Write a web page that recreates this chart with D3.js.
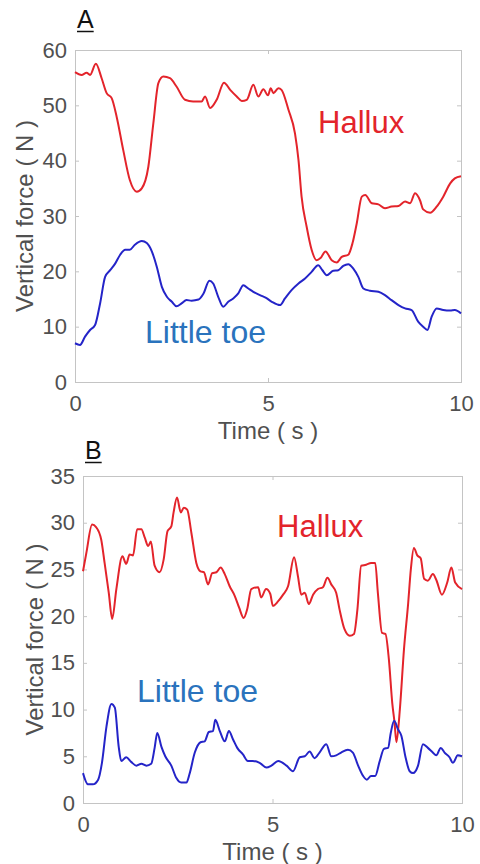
<!DOCTYPE html>
<html>
<head>
<meta charset="utf-8">
<script src="https://cdn.jsdelivr.net/npm/d3@7"></script>
<style>
	body { margin: 0; background: #fff; }
	svg { display: block; font-family: "Liberation Sans", Arial, sans-serif; }
	.axis .domain { display: none; }
	.axis line { stroke: #c4c4c4; }
	.axis text { fill: #505050; font-size: 22px; }
	.box { fill: none; stroke: #c4c4c4; stroke-width: 1; }
	.label { fill: #505050; font-size: 24px; }
	.hallux-line { fill: none; stroke: #e3242b; stroke-width: 2; }
	.toe-line { fill: none; stroke: #2424c8; stroke-width: 2; }
	.hallux-text { fill: #e3242b; font-size: 31px; }
	.toe-text { fill: #2a73bd; font-size: 32px; }
	.letter { fill: #111; font-size: 25px; }
</style>
</head>
<body>
<div id="graphic"></div>
<script>
// ===========================
// vertical force under hallux and little toe, two trials (A, B)
// ===========================

var timeTicks = [0, 5, 10];
var forceTicksA = [0, 10, 20, 30, 40, 50, 60];
var forceTicksB = [0, 5, 10, 15, 20, 25, 30, 35];

// [time (s), force (N)]
var halluxA = [[0,56.0],[0.17,55.5],[0.30,55.9],[0.39,55.5],[0.54,57.5],[0.69,54.9],[0.82,52.2],[0.95,51.3],[1.08,47.9],[1.25,41.9],[1.42,36.5],[1.60,34.4],[1.73,35.0],[1.90,38.9],[2.03,46.8],[2.16,54.0],[2.29,55.2],[2.46,54.9],[2.63,53.4],[2.85,51.0],[3.06,50.7],[3.28,50.7],[3.37,51.6],[3.50,49.5],[3.67,51.0],[3.86,54.1],[4.02,52.8],[4.19,51.6],[4.32,50.8],[4.45,51.0],[4.62,53.7],[4.75,51.6],[4.88,52.9],[5.00,51.8],[5.07,53.1],[5.14,52.2],[5.27,53.1],[5.35,52.8],[5.53,49.2],[5.70,44.9],[5.79,40.1],[5.87,33.5],[6.00,28.1],[6.13,23.9],[6.26,22.0],[6.36,22.4],[6.49,23.6],[6.65,22.0],[6.78,21.6],[6.91,22.6],[7.08,23.0],[7.19,25.1],[7.30,28.7],[7.43,33.5],[7.52,33.8],[7.69,32.3],[7.86,32.1],[8.03,31.4],[8.20,31.7],[8.38,31.8],[8.55,32.6],[8.68,32.3],[8.81,34.1],[8.94,32.8],[9.02,31.2],[9.20,30.6],[9.37,31.7],[9.54,33.5],[9.72,35.9],[9.84,36.8],[10,37.2]];

var littleToeA = [[0,7.0],[0.13,6.7],[0.26,8.2],[0.39,9.4],[0.52,10.3],[0.65,14.2],[0.78,19.0],[0.91,20.2],[1.04,21.4],[1.17,23.0],[1.30,23.9],[1.42,23.9],[1.55,24.8],[1.73,25.5],[1.86,25.1],[1.99,23.6],[2.12,20.8],[2.25,17.2],[2.38,15.4],[2.51,14.5],[2.63,13.7],[2.76,14.2],[2.89,14.8],[3.02,14.7],[3.20,14.9],[3.33,16.0],[3.48,18.3],[3.58,17.8],[3.71,15.4],[3.84,13.6],[3.97,14.5],[4.10,15.1],[4.23,16.0],[4.36,17.5],[4.49,16.9],[4.62,16.3],[4.79,15.7],[4.95,15.2],[5.10,14.5],[5.31,13.9],[5.44,15.1],[5.61,16.6],[5.79,17.8],[5.96,18.7],[6.13,19.9],[6.30,21.1],[6.41,20.2],[6.52,19.3],[6.69,20.1],[6.82,20.2],[6.95,21.0],[7.08,21.3],[7.21,20.5],[7.34,19.0],[7.47,16.9],[7.64,16.5],[7.86,16.3],[8.03,15.7],[8.20,14.8],[8.38,13.9],[8.55,13.3],[8.72,13.0],[8.89,10.9],[9.02,10.0],[9.13,9.4],[9.24,11.8],[9.37,13.3],[9.54,13.0],[9.72,12.9],[9.84,13.0],[10,12.4]];

var halluxB = [[0,24.8],[0.09,26.8],[0.24,29.8],[0.35,29.5],[0.48,28.2],[0.57,25.7],[0.68,22.5],[0.77,19.7],[0.88,22.9],[1.04,26.4],[1.14,25.6],[1.23,26.6],[1.32,26.5],[1.43,29.3],[1.54,29.3],[1.63,28.4],[1.72,27.5],[1.79,28.0],[1.89,25.4],[2.02,24.7],[2.13,26.1],[2.23,29.1],[2.33,29.6],[2.39,31.1],[2.48,32.7],[2.58,31.1],[2.66,31.6],[2.75,31.4],[2.86,28.9],[2.99,25.7],[3.10,24.8],[3.19,24.7],[3.30,23.4],[3.41,24.6],[3.52,24.7],[3.63,25.2],[3.74,24.5],[3.87,23.2],[4.00,22.2],[4.12,20.9],[4.24,19.8],[4.33,20.7],[4.44,22.9],[4.62,23.1],[4.70,22.0],[4.83,22.9],[4.94,22.4],[5.01,21.1],[5.15,21.6],[5.28,22.3],[5.41,23.2],[5.57,26.3],[5.67,24.3],[5.76,22.3],[5.85,22.5],[5.96,21.3],[6.07,22.3],[6.20,22.9],[6.33,23.1],[6.45,24.1],[6.55,23.4],[6.68,22.5],[6.77,20.7],[6.90,18.6],[7.04,17.9],[7.15,18.1],[7.24,20.7],[7.34,25.4],[7.47,25.5],[7.60,25.7],[7.71,25.7],[7.78,22.5],[7.89,18.2],[7.98,18.1],[8.07,15.4],[8.16,10.7],[8.22,8.6],[8.27,6.5],[8.36,10.0],[8.47,16.5],[8.58,21.4],[8.65,25.0],[8.73,27.3],[8.82,26.5],[8.91,26.2],[9.00,24.0],[9.10,23.8],[9.23,24.5],[9.32,23.9],[9.47,22.3],[9.61,23.6],[9.72,25.2],[9.82,23.6],[10,22.9]];

var littleToeB = [[0,3.2],[0.13,2.0],[0.26,2.0],[0.40,2.5],[0.50,4.3],[0.62,8.2],[0.75,10.6],[0.84,10.2],[0.94,6.1],[1.01,4.5],[1.14,4.9],[1.27,4.4],[1.41,4.0],[1.54,4.2],[1.67,4.0],[1.80,4.2],[1.89,5.9],[1.96,7.5],[2.07,6.0],[2.17,5.0],[2.33,4.0],[2.46,2.7],[2.59,2.2],[2.73,2.2],[2.81,3.1],[2.95,5.4],[3.10,6.5],[3.21,6.6],[3.32,7.6],[3.43,7.7],[3.49,8.9],[3.61,7.7],[3.74,6.6],[3.85,7.7],[3.96,6.8],[4.07,5.9],[4.22,5.2],[4.35,4.5],[4.48,4.5],[4.66,4.3],[4.84,3.8],[4.97,4.0],[5.15,4.5],[5.37,4.0],[5.54,3.4],[5.72,4.9],[5.85,5.0],[5.98,5.5],[6.11,4.8],[6.24,5.4],[6.42,6.3],[6.55,5.0],[6.68,5.1],[6.81,5.4],[6.99,5.7],[7.12,5.4],[7.26,4.0],[7.39,2.9],[7.49,2.5],[7.60,2.9],[7.71,2.9],[7.83,4.5],[7.94,5.8],[8.05,5.9],[8.12,7.5],[8.21,8.8],[8.31,7.9],[8.40,7.2],[8.51,4.9],[8.62,3.4],[8.71,3.2],[8.84,4.0],[8.97,6.3],[9.10,5.9],[9.23,5.4],[9.32,5.1],[9.44,5.9],[9.54,5.4],[9.67,4.9],[9.76,4.3],[9.89,5.1],[10,5.0]];


var svg = d3.select('#graphic').append('svg')
	.attr('width', 480)
	.attr('height', 864);

renderPanel({
	letter: 'A',
	left: 75, top: 50, width: 386, height: 332,
	yMax: 60, yTicks: forceTicksA,
	hallux: halluxA, toe: littleToeA,
	halluxLabel: [318, 133], toeLabel: [145, 343],
	letterPos: [77, 28], yLabelX: 33
});

renderPanel({
	letter: 'B',
	left: 83, top: 476, width: 379, height: 327,
	yMax: 35, yTicks: forceTicksB,
	hallux: halluxB, toe: littleToeB,
	halluxLabel: [277, 537], toeLabel: [137, 702],
	letterPos: [85, 459], yLabelX: 43
});


function renderPanel(config) {

	var x = d3.scaleLinear().domain([0, 10]).range([0, config.width]);
	var y = d3.scaleLinear().domain([0, config.yMax]).range([config.height, 0]);

	var g = svg.append('g')
		.attr('transform', 'translate(' + config.left + ',' + config.top + ')');

	// box + inward ticks on all four sides (matlab style)
	g.append('rect').attr('class', 'box')
		.attr('x', 0.5).attr('y', 0.5)
		.attr('width', config.width).attr('height', config.height);

	g.append('g').attr('class', 'axis')
		.call(d3.axisLeft(y).tickValues(config.yTicks).tickSizeInner(-4).tickSizeOuter(0).tickPadding(8));
	g.append('g').attr('class', 'axis')
		.attr('transform', 'translate(' + config.width + ',0)')
		.call(d3.axisRight(y).tickValues(config.yTicks).tickSizeInner(-4).tickSizeOuter(0).tickFormat(''));
	g.append('g').attr('class', 'axis')
		.attr('transform', 'translate(0,' + config.height + ')')
		.call(d3.axisBottom(x).tickValues(timeTicks).tickSizeInner(-4).tickSizeOuter(0).tickPadding(13));
	g.append('g').attr('class', 'axis')
		.call(d3.axisTop(x).tickValues(timeTicks).tickSizeInner(-4).tickSizeOuter(0).tickFormat(''));

	// lines
	var line = d3.line()
		.x(function(d) { return x(d[0]); })
		.y(function(d) { return y(d[1]); })
		.curve(d3.curveMonotoneX);

	g.append('path').attr('class', 'hallux-line').attr('d', line(config.hallux));
	g.append('path').attr('class', 'toe-line').attr('d', line(config.toe));

	// axis titles
	svg.append('text').attr('class', 'label')
		.attr('text-anchor', 'middle')
		.attr('x', config.left + config.width / 2)
		.attr('y', config.top + config.height + 57)
		.text('Time ( s )');

	svg.append('text').attr('class', 'label')
		.attr('text-anchor', 'middle')
		.attr('transform', 'translate(' + config.yLabelX + ',' + (config.top + config.height / 2) + ') rotate(-90)')
		.text('Vertical force ( N )');

	// series labels
	svg.append('text').attr('class', 'hallux-text')
		.attr('x', config.halluxLabel[0]).attr('y', config.halluxLabel[1])
		.text('Hallux');
	svg.append('text').attr('class', 'toe-text')
		.attr('x', config.toeLabel[0]).attr('y', config.toeLabel[1])
		.text('Little toe');

	// panel letter, underlined
	var letter = svg.append('text').attr('class', 'letter')
		.attr('x', config.letterPos[0]).attr('y', config.letterPos[1])
		.text(config.letter);
	var w = letter.node().getComputedTextLength();
	svg.append('line')
		.attr('x1', config.letterPos[0]).attr('x2', config.letterPos[0] + w)
		.attr('y1', config.letterPos[1] + 3.5).attr('y2', config.letterPos[1] + 3.5)
		.attr('stroke', '#111').attr('stroke-width', 1.5);

} // end renderPanel()
</script>
</body>
</html>
